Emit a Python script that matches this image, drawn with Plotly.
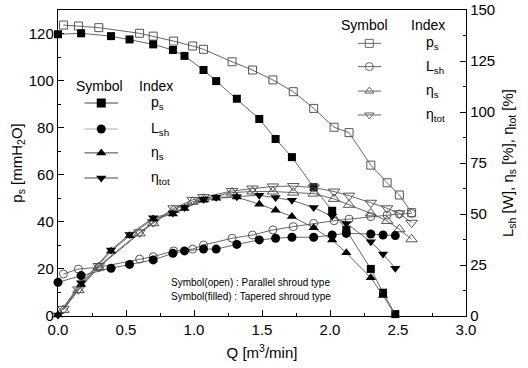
import plotly.graph_objects as go

# ---------------- data ----------------
q_open = [0.04, 0.15, 0.30, 0.60, 0.70, 0.85, 0.99, 1.07, 1.28, 1.43, 1.58, 1.73, 1.88, 2.03, 2.14, 2.30, 2.42, 2.51, 2.60]
ps_open = [123.6, 123.2, 122.5, 120.1, 118.9, 116.8, 114.7, 113.3, 108.0, 104.5, 100.3, 95.3, 88.2, 80.2, 77.9, 64.1, 56.6, 51.4, 43.9]
lsh_open = [20.6, 23.0, 23.9, 27.9, 29.1, 31.9, 32.8, 34.8, 38.1, 39.7, 42.2, 43.8, 45.4, 46.7, 47.5, 48.7, 49.5, 50.0, 50.3]
etas_open = [3.0, 12.7, 24.0, 40.5, 45.5, 52.0, 56.0, 57.5, 60.5, 61.0, 61.0, 60.5, 60.0, 57.4, 54.5, 50.3, 46.6, 42.5, 37.6]
etatot_open = [3.5, 13.0, 24.5, 41.0, 46.0, 52.8, 56.9, 58.3, 61.3, 62.5, 63.5, 63.7, 63.0, 61.0, 59.0, 55.5, 52.8, 50.3, 45.7]

q_fill = [0.00, 0.17, 0.39, 0.526, 0.70, 0.845, 0.93, 1.07, 1.163, 1.315, 1.48, 1.60, 1.72, 1.88, 2.016, 2.12, 2.30, 2.39, 2.48]
ps_fill = [119.7, 120.1, 118.9, 117.5, 115.4, 113.0, 110.5, 104.5, 99.8, 92.3, 83.7, 75.2, 67.5, 54.7, 44.7, 36.5, 20.0, 9.9, 0.8]
lsh_fill = [16.5, 19.8, 23.4, 25.3, 27.5, 30.7, 31.9, 32.8, 32.8, 35.1, 37.3, 38.1, 38.6, 38.6, 39.7, 40.5, 40.2, 39.7, 39.4]
etas_fill = [0.5, 15.5, 31.8, 39.3, 47.5, 50.0, 52.7, 56.7, 57.7, 58.3, 54.8, 51.8, 48.8, 43.2, 37.3, 31.0, 18.8, 10.0, 0.5]
etatot_fill = [0.5, 16.3, 32.4, 40.0, 48.2, 50.5, 53.2, 57.2, 58.2, 58.5, 59.2, 58.1, 56.7, 53.2, 49.0, 45.4, 36.4, 30.4, 23.4]

x_ticks = [0.0, 0.5, 1.0, 1.5, 2.0, 2.5, 3.0]
x_ticklabels = ["0.0", "0.5", "1.0", "1.5", "2.0", "2.5", "3.0"]
legend_labels = ["p<sub>s</sub>", "L<sub>sh</sub>", "η<sub>s</sub>", "η<sub>tot</sub>"]
legend_symbols_fill = ["square", "circle", "triangle-up", "triangle-down"]
legend_symbols_open = ["square-open", "circle-open", "triangle-up-open", "triangle-down-open"]

FONT = "Liberation Sans, Arial, sans-serif"
LINE = "#555555"
OPEN_C = "#555555"

fig = go.Figure()


def add_series(x, y, symbol, yaxis, filled, size):
    if filled:
        marker = dict(symbol=symbol, size=size, color="black", line=dict(width=0))
    else:
        marker = dict(symbol=symbol, size=size, color=OPEN_C, line=dict(width=1, color=OPEN_C))
    fig.add_trace(go.Scatter(
        x=x, y=y, mode="lines+markers", yaxis=yaxis,
        line=dict(color=LINE, width=0.9), marker=marker,
        cliponaxis=False, showlegend=False, hoverinfo="skip"))


# open (parallel) series
add_series(q_open, ps_open, "square-open", "y", False, 8)
add_series(q_open, lsh_open, "circle-open", "y2", False, 8)
add_series(q_open, etas_open, "triangle-up-open", "y2", False, 10)
add_series(q_open, etatot_open, "triangle-down-open", "y2", False, 10)
# filled (tapered) series
add_series(q_fill, ps_fill, "square", "y", True, 8)
add_series(q_fill, lsh_fill, "circle", "y2", True, 9)
add_series(q_fill, etas_fill, "triangle-up", "y2", True, 9)
add_series(q_fill, etatot_fill, "triangle-down", "y2", True, 9)

# ---------------- legend samples on an overlay axis (plot fraction) ----------------
left_rows = [0.696, 0.611, 0.533, 0.451]
right_rows = [0.891, 0.815, 0.735, 0.657]
left_line_colors = ["#444444", "#aaaaaa", "#444444", "#444444"]
for i, fy in enumerate(left_rows):
    fig.add_trace(go.Scatter(x=[0.065, 0.147], y=[fy, fy], mode="lines", xaxis="x2", yaxis="y3",
                             line=dict(color=left_line_colors[i], width=1), showlegend=False, hoverinfo="skip"))
    fig.add_trace(go.Scatter(x=[0.106], y=[fy], mode="markers", xaxis="x2", yaxis="y3",
                             marker=dict(symbol=legend_symbols_fill[i], size=9, color="black"),
                             showlegend=False, hoverinfo="skip"))
    fig.add_annotation(x=0.224, y=fy, xref="paper", yref="paper", text=legend_labels[i],
                       showarrow=False, xanchor="left", yanchor="middle",
                       font=dict(family=FONT, size=14, color="black"))
for i, fy in enumerate(right_rows):
    fig.add_trace(go.Scatter(x=[0.735, 0.792], y=[fy, fy], mode="lines", xaxis="x2", yaxis="y3",
                             line=dict(color="#666666", width=1), showlegend=False, hoverinfo="skip"))
    fig.add_trace(go.Scatter(x=[0.763], y=[fy], mode="markers", xaxis="x2", yaxis="y3",
                             marker=dict(symbol=legend_symbols_open[i], size=8, color="#666666",
                                         line=dict(width=1, color="#666666")),
                             showlegend=False, hoverinfo="skip"))
    fig.add_annotation(x=0.898, y=fy, xref="paper", yref="paper", text=legend_labels[i],
                       showarrow=False, xanchor="left", yanchor="middle",
                       font=dict(family=FONT, size=14, color="black"))

# legend headers
for (xc, yc, txt) in [(0.102, 0.752, "Symbol"), (0.241, 0.752, "Index"),
                      (0.751, 0.951, "Symbol"), (0.906, 0.951, "Index")]:
    fig.add_annotation(x=xc, y=yc, xref="paper", yref="paper", text=txt, showarrow=False,
                       xanchor="center", yanchor="middle", font=dict(family=FONT, size=14, color="black"))

fig.add_annotation(x=0.273, y=0.109, xref="paper", yref="paper",
                   text="Symbol(open) : Parallel shroud type", showarrow=False,
                   xanchor="left", yanchor="middle", font=dict(family=FONT, size=10, color="black"))
fig.add_annotation(x=0.273, y=0.063, xref="paper", yref="paper",
                   text="Symbol(filled) : Tapered shroud type", showarrow=False,
                   xanchor="left", yanchor="middle", font=dict(family=FONT, size=10, color="black"))

axis_common = dict(showgrid=False, zeroline=False, showline=True, linecolor="black", linewidth=1.2,
                   ticks="inside", ticklen=6, tickwidth=1, tickcolor="black",
                   tickfont=dict(family=FONT, size=15, color="black"))

fig.update_layout(
    width=528, height=368,
    margin=dict(l=58, r=62, t=10, b=52, autoexpand=False),
    paper_bgcolor="white", plot_bgcolor="white",
    font=dict(family=FONT, color="black"),
    xaxis=dict(range=[0, 3], tickvals=x_ticks, ticktext=x_ticklabels, mirror=True,
               minor=dict(ticks="inside", dtick=0.25, ticklen=3, tickcolor="black"),
               title=dict(text="Q [m<sup>3</sup>/min]", font=dict(family=FONT, size=15), standoff=10),
               **axis_common),
    yaxis=dict(range=[0, 130], dtick=20, mirror=False,
               minor=dict(ticks="inside", dtick=10, ticklen=3, tickcolor="black"),
               title=dict(text="p<sub>s</sub> [mmH<sub>2</sub>O]", font=dict(family=FONT, size=15), standoff=2),
               **axis_common),
    yaxis2=dict(range=[0, 150], dtick=25, overlaying="y", side="right",
                minor=dict(ticks="inside", dtick=12.5, ticklen=3, tickcolor="black"),
                title=dict(text="L<sub>sh</sub> [W], η<sub>s</sub> [%], η<sub>tot</sub> [%]",
                           font=dict(family=FONT, size=15), standoff=8),
                **axis_common),
    xaxis2=dict(range=[0, 1], overlaying="x", visible=False),
    yaxis3=dict(range=[0, 1], overlaying="y", visible=False),
)

fig.write_html("out.html", config={"displayModeBar": False, "staticPlot": True},
               post_script="document.body.style.margin='0px';")
